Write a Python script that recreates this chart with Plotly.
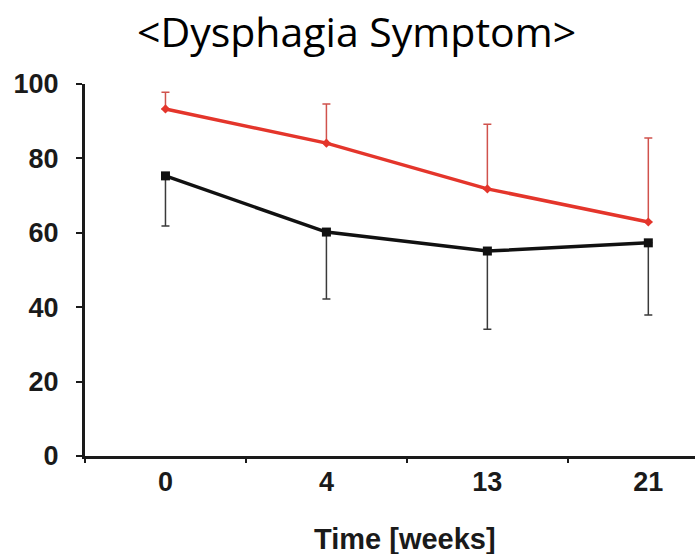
import plotly.graph_objects as go

# Time points (weeks) shown as categories
weeks = ["0", "4", "13", "21"]

# Group means and one-sided standard deviations
red_mean = [93.3, 84.1, 71.8, 62.9]
red_sd_up = [4.5, 10.5, 17.4, 22.6]

black_mean = [75.3, 60.2, 55.1, 57.3]
black_sd_down = [13.5, 18.0, 21.0, 19.4]

y_ticks = [0, 20, 40, 60, 80, 100]

W, H = 695, 554
L, R, T, B = 85, 0, 84, 98

fig = go.Figure()

fig.add_trace(go.Scatter(
    x=weeks, y=black_mean, mode="lines+markers",
    line=dict(color="#111111", width=3.5),
    marker=dict(symbol="square", size=9, color="#111111"),
    error_y=dict(type="data", symmetric=False, array=[0] * len(black_mean),
                 arrayminus=black_sd_down, color="#3a3a3a", thickness=1.5, width=4),
    cliponaxis=False, showlegend=False,
))

fig.add_trace(go.Scatter(
    x=weeks, y=red_mean, mode="lines+markers",
    line=dict(color="#e4352b", width=3.5),
    marker=dict(symbol="diamond", size=7, color="#e4352b"),
    error_y=dict(type="data", symmetric=False, array=red_sd_up,
                 arrayminus=[0] * len(red_mean), color="#d0524c", thickness=1.5, width=4),
    cliponaxis=False, showlegend=False,
))

tick_font = dict(family="Liberation Sans", size=27, color="#1a1a1a", weight="bold")

fig.update_xaxes(
    type="category", categoryorder="array", categoryarray=weeks,
    range=[-0.5, 3.29], tickson="boundaries",
    showline=True, linecolor="#1a1a1a", linewidth=3,
    ticks="outside", ticklen=4, tickwidth=2, tickcolor="#1a1a1a",
    tickfont=tick_font, ticklabelstandoff=0,
    showgrid=False, zeroline=False,
)

fig.update_yaxes(
    range=[0, 100], tickvals=y_ticks,
    showline=True, linecolor="#1a1a1a", linewidth=3,
    ticks="outside", ticklen=6, tickwidth=2, tickcolor="#1a1a1a",
    tickfont=tick_font, ticklabelstandoff=12,
    showgrid=False, zeroline=False,
)

fig.add_annotation(
    text="<Dysphagia Symptom>", xref="paper", yref="paper",
    x=(356 - L) / (W - L - R), y=1 + (T - 31) / (H - T - B),
    xanchor="center", yanchor="middle", showarrow=False,
    font=dict(family="Open Sans", size=41, color="#000000"),
)

fig.add_annotation(
    text="<b>Time [weeks]</b>", xref="paper", yref="paper",
    x=(405 - L) / (W - L - R), y=-(539 - (H - B)) / (H - T - B),
    xanchor="center", yanchor="middle", showarrow=False,
    font=dict(family="Liberation Sans", size=29, color="#1a1a1a"),
)

fig.update_layout(
    width=W, height=H, autosize=False,
    margin=dict(l=L, r=R, t=T, b=B, pad=0),
    paper_bgcolor="white", plot_bgcolor="white",
)

fig.write_html("out.html")
